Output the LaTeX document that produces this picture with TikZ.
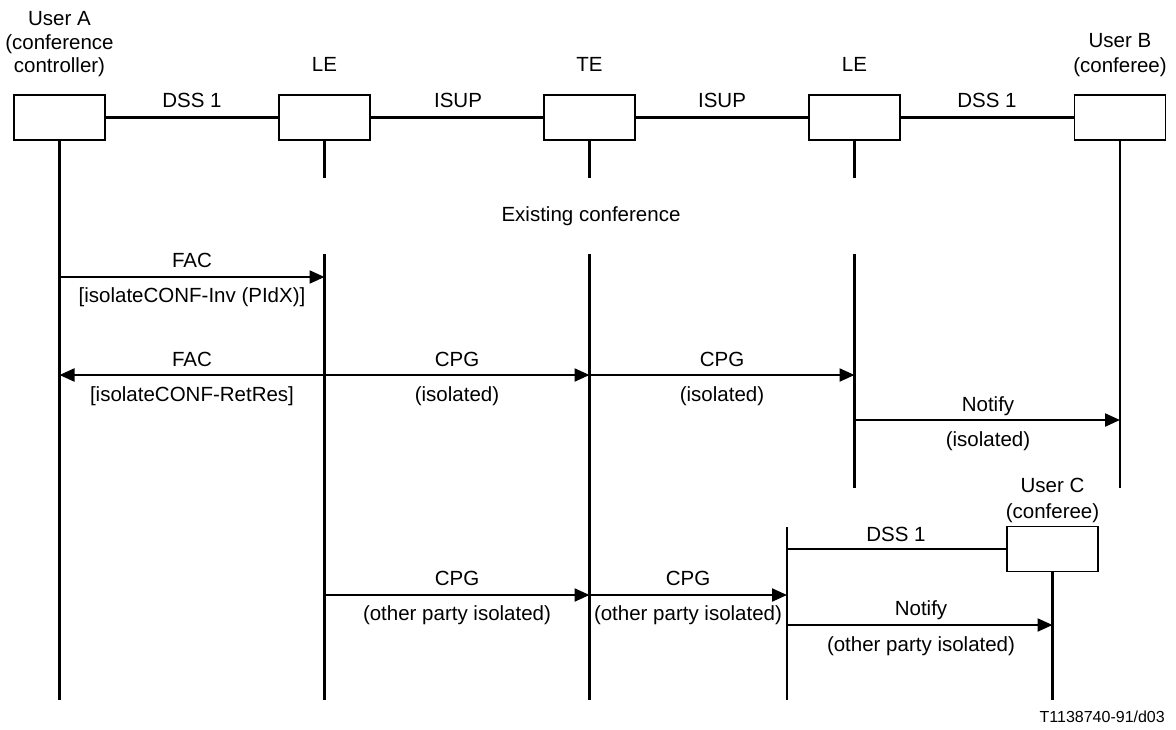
\documentclass[tikz,border=0pt]{standalone}
\usepackage{fontspec}
\setmainfont{Liberation Sans}
\usetikzlibrary{arrows.meta}
\begin{document}
\begin{tikzpicture}[x=1pt,y=-1pt,
  lbl/.style={font=\fontsize{20.5}{24}\selectfont, inner sep=0pt, text height=14.7pt, text depth=0pt, anchor=center},
  small/.style={font=\fontsize{16}{19}\selectfont, inner sep=0pt, text height=11.5pt, text depth=0pt, anchor=center},
  ent/.style={draw, line width=1.2pt, minimum width=91pt, minimum height=45pt, inner sep=0pt},
  life/.style={line width=2.2pt},
  link/.style={line width=2.2pt},
  msg/.style={line width=2.2pt, -{Triangle[length=15pt,width=13pt]}}]
\useasboundingbox (0,0) rectangle (1176,729);

% entity boxes
\node[ent] (A)   at (59.5,117.5) {};
\node[ent] (LE1) at (324.5,117.5) {};
\node[ent] (TE)  at (589.5,117.5) {};
\node[ent] (LE2) at (854.5,117.5) {};
\node[ent] (B)   at (1120,117.5) {};
\node[ent] (C)   at (1052.5,549) {};

% entity titles
\node[lbl] (tA1) at (59.5,18) {User A};
\node[lbl] (tA2) at (59.5,42) {(conference};
\node[lbl] (tA3) at (59.5,65) {controller)};
\node[lbl] (tLE1) at (324.5,64) {LE};
\node[lbl] (tTE)  at (589.5,64) {TE};
\node[lbl] (tLE2) at (854.5,64) {LE};
\node[lbl] (tB1) at (1120,40) {User B};
\node[lbl] (tB2) at (1120,65) {(conferee)};
\node[lbl] (tC1) at (1052.5,485) {User C};
\node[lbl] (tC2) at (1052.5,511) {(conferee)};

% links between boxes
\draw[link] (A.east) -- (LE1.west);
\draw[link] (LE1.east) -- (TE.west);
\draw[link] (TE.east) -- (LE2.west);
\draw[link] (LE2.east) -- (B.west);
\node[lbl] (l1) at (192,100) {DSS 1};
\node[lbl] (l2) at (458,100) {ISUP};
\node[lbl] (l3) at (722,100) {ISUP};
\node[lbl] (l4) at (987,100) {DSS 1};

% lifeline coordinates
\coordinate (Ae)  at (59.5,700);
\coordinate (L1a) at (324.5,178);
\coordinate (L1b) at (324.5,254);
\coordinate (L1e) at (324.5,700);
\coordinate (Ta)  at (589.5,178);
\coordinate (Tb)  at (589.5,254);
\coordinate (Te)  at (589.5,700);
\coordinate (L2a) at (854.5,178);
\coordinate (L2b) at (854.5,254);
\coordinate (L2e) at (854.5,488);
\coordinate (Be)  at (1120,488);
\coordinate (L3b) at (787,527);
\coordinate (L3e) at (787,700);
\coordinate (Ce)  at (1052.5,700);

\draw[life] (A.south) -- (Ae);
\draw[life] (LE1.south) -- (L1a);
\draw[life] (L1b) -- (L1e);
\draw[life] (TE.south) -- (Ta);
\draw[life] (Tb) -- (Te);
\draw[life] (LE2.south) -- (L2a);
\draw[life] (L2b) -- (L2e);
\draw[life] (B.south) -- (Be);
\draw[life] (L3b) -- (L3e);
\draw[life] (C.south) -- (Ce);

\node[lbl] (exist) at (591,214) {Existing conference};

% message points
\coordinate (m1a) at (59.5,277);
\coordinate (m1b) at (324.5,277);
\coordinate (m2a) at (59.5,375);
\coordinate (m2b) at (324.5,375);
\coordinate (m2c) at (589.5,375);
\coordinate (m2d) at (854.5,375);
\coordinate (m3a) at (854.5,420);
\coordinate (m3b) at (1120,420);
\coordinate (dC)  at (787,549);
\coordinate (m4a) at (324.5,595);
\coordinate (m4b) at (589.5,595);
\coordinate (m4c) at (787,595);
\coordinate (m5a) at (787,625);
\coordinate (m5b) at (1052.5,625);

\draw[msg] (m1a) -- (m1b);
\node[lbl] (f1) at (192,260) {FAC};
\node[lbl] (f1b) at (192,295) {[isolateCONF-Inv (PIdX)]};

\draw[msg] (m2b) -- (m2a);
\node[lbl] (f2) at (192,359) {FAC};
\node[lbl] (f2b) at (192,394) {[isolateCONF-RetRes]};

\draw[msg] (m2b) -- (m2c);
\node[lbl] (c1) at (457,359) {CPG};
\node[lbl] (c1b) at (457,394) {(isolated)};

\draw[msg] (m2c) -- (m2d);
\node[lbl] (c2) at (722,359) {CPG};
\node[lbl] (c2b) at (722,394) {(isolated)};

\draw[msg] (m3a) -- (m3b);
\node[lbl] (n1) at (988,404) {Notify};
\node[lbl] (n1b) at (988,439) {(isolated)};

\draw[link] (dC) -- (C.west);
\node[lbl] (dss3) at (896,534) {DSS 1};

\draw[msg] (m4a) -- (m4b);
\node[lbl] (c3) at (457,578) {CPG};
\node[lbl] (c3b) at (457,613) {(other party isolated)};

\draw[msg] (m4b) -- (m4c);
\node[lbl] (c4) at (688,578) {CPG};
\node[lbl] (c4b) at (688,613) {(other party isolated)};

\draw[msg] (m5a) -- (m5b);
\node[lbl] (n2) at (921,608) {Notify};
\node[lbl] (n2b) at (921,644) {(other party isolated)};

\node[small, anchor=east] (ref) at (1165,717) {T1138740-91/d03};
\end{tikzpicture}
\end{document}
